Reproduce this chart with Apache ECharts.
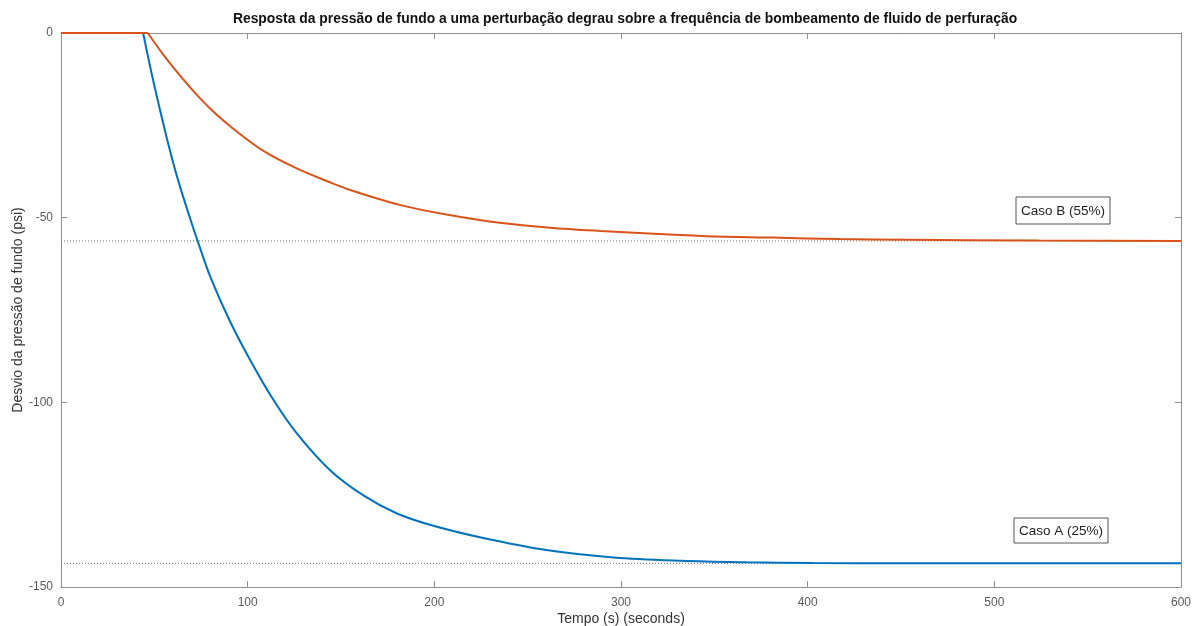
<!DOCTYPE html>
<html>
<head>
<meta charset="utf-8">
<script src="https://cdn.jsdelivr.net/npm/echarts@6/dist/echarts.min.js"></script>
<style>
  html, body { margin: 0; padding: 0; background: #fff; }
  #chart { width: 1193px; height: 626px; }
</style>
</head>
<body>
<div id="chart"></div>
<script>
// tempo (s) e desvio (psi)
const tempoA = [0, 44, 49, 55, 60, 64, 70, 74, 80, 90, 100, 113, 126, 144, 162, 180, 198, 225, 260, 296, 332, 367, 403, 450, 500, 550, 600];
const casoA = [0, 0, -12, -25, -35, -42, -51.5, -57.5, -66, -77.5, -87.3, -98.7, -108.2, -118.3, -125.2, -130.1, -133.2, -136.6, -140, -142, -142.9, -143.3, -143.5, -143.6, -143.6, -143.6, -143.6];

const tempoB = [0, 46.5, 55, 64, 73, 81, 90.5, 108, 126, 144, 155, 182, 208, 235, 262, 289, 315, 346, 381, 417, 453, 524, 600];
const casoB = [0, 0, -6, -11.7, -16.9, -21, -25.2, -31.8, -36.6, -40.4, -42.5, -46.6, -49.3, -51.4, -52.7, -53.6, -54.3, -55, -55.4, -55.8, -56, -56.2, -56.3];

// valores de regime (linhas pontilhadas)
const refTempo = [0, 600];
const refA = [-143.6, -143.6];
const refB = [-56.3, -56.3];

const xTicks = [0, 100, 200, 300, 400, 500, 600];
const yTicks = [0, -50, -100, -150];

const pairs = (xs, ys) => xs.map((x, i) => [x, ys[i]]);

// trecho parado antes do degrau e trecho de resposta (suavizado)
const kinkA = 1;
const kinkB = 1;
const flatA = pairs(tempoA, casoA).slice(0, kinkA + 1);
const stepA = pairs(tempoA, casoA).slice(kinkA);
const flatB = pairs(tempoB, casoB).slice(0, kinkB + 1);
const stepB = pairs(tempoB, casoB).slice(kinkB);

const chart = echarts.init(document.getElementById("chart"));

const axisGray = "#8f8f8f";
const labelGray = "#5a5a5a";
const font = "Liberation Sans, Arial, sans-serif";

const boxAxis = (extra) => ({
  type: "value",
  axisLine: { show: true, onZero: false, lineStyle: { color: axisGray } },
  axisTick: { show: true, inside: true, length: 6, lineStyle: { color: axisGray } },
  splitLine: { show: false },
  ...extra,
});

const blue = "#0072BD";
const orange = "#D95319";

chart.setOption({
  animation: false,
  backgroundColor: "#fff",
  textStyle: { fontFamily: font },
  title: {
    text: "Resposta da pressão de fundo a uma perturbação degrau sobre a frequência de bombeamento de fluido de perfuração",
    left: 620,
    textAlign: "center",
    top: 7,
    textStyle: { fontSize: 13.9, fontWeight: "bold", color: "#111", fontFamily: font },
  },
  grid: { left: 61, right: 12, top: 33, bottom: 39, containLabel: false, outerBoundsMode: "none" },
  xAxis: [
    boxAxis({
      min: xTicks[0],
      max: xTicks[xTicks.length - 1],
      interval: xTicks[1] - xTicks[0],
      name: "Tempo (s) (seconds)",
      nameLocation: "middle",
      nameGap: 25,
      nameMoveOverlap: false,
      nameTextStyle: { fontSize: 14, color: "#333" },
      axisLabel: { color: labelGray, fontSize: 12, margin: 10, showMaxLabel: true },
    }),
    boxAxis({
      position: "top",
      min: xTicks[0],
      max: xTicks[xTicks.length - 1],
      interval: xTicks[1] - xTicks[0],
      axisLabel: { show: false },
    }),
  ],
  yAxis: [
    boxAxis({
      min: yTicks[yTicks.length - 1],
      max: yTicks[0],
      interval: yTicks[0] - yTicks[1],
      name: "Desvio da pressão de fundo (psi)",
      nameLocation: "middle",
      nameGap: 36,
      nameMoveOverlap: false,
      nameTextStyle: { fontSize: 14, color: "#333" },
      axisLabel: { color: labelGray, fontSize: 12, margin: 8 },
    }),
    boxAxis({
      position: "right",
      min: yTicks[yTicks.length - 1],
      max: yTicks[0],
      interval: yTicks[0] - yTicks[1],
      axisLabel: { show: false },
    }),
  ],
  series: [
    {
      name: "ref A",
      type: "line",
      data: pairs(refTempo, refA),
      symbol: "none",
      lineStyle: { color: "#6e6e6e", width: 1, type: [1, 2] },
      z: 1,
    },
    {
      name: "ref B",
      type: "line",
      data: pairs(refTempo, refB),
      symbol: "none",
      lineStyle: { color: "#6e6e6e", width: 1, type: [1, 2] },
      z: 1,
    },
    {
      name: "Caso A (25%)",
      type: "line",
      data: flatA,
      symbol: "none",
      lineStyle: { color: blue, width: 2 },
      z: 3,
    },
    {
      name: "Caso A (25%)",
      type: "line",
      data: stepA,
      symbol: "none",
      smooth: 0.35,
      lineStyle: { color: blue, width: 2 },
      z: 3,
    },
    {
      name: "Caso B (55%)",
      type: "line",
      data: flatB,
      symbol: "none",
      lineStyle: { color: orange, width: 2 },
      z: 4,
    },
    {
      name: "Caso B (55%)",
      type: "line",
      data: stepB,
      symbol: "none",
      smooth: 0.35,
      lineStyle: { color: orange, width: 2 },
      z: 4,
    },
  ],
  graphic: [
    {
      type: "rect",
      shape: { x: 1016, y: 197, width: 94, height: 27 },
      style: { fill: "#fff", stroke: "#555", lineWidth: 1 },
    },
    {
      type: "text",
      x: 1063,
      y: 211,
      style: { text: "Caso B (55%)", fill: "#222", font: "13.5px " + font, align: "center", verticalAlign: "middle" },
    },
    {
      type: "rect",
      shape: { x: 1014, y: 518, width: 94, height: 25 },
      style: { fill: "#fff", stroke: "#555", lineWidth: 1 },
    },
    {
      type: "text",
      x: 1061,
      y: 531,
      style: { text: "Caso A (25%)", fill: "#222", font: "13.5px " + font, align: "center", verticalAlign: "middle" },
    },
  ],
});
</script>
</body>
</html>
